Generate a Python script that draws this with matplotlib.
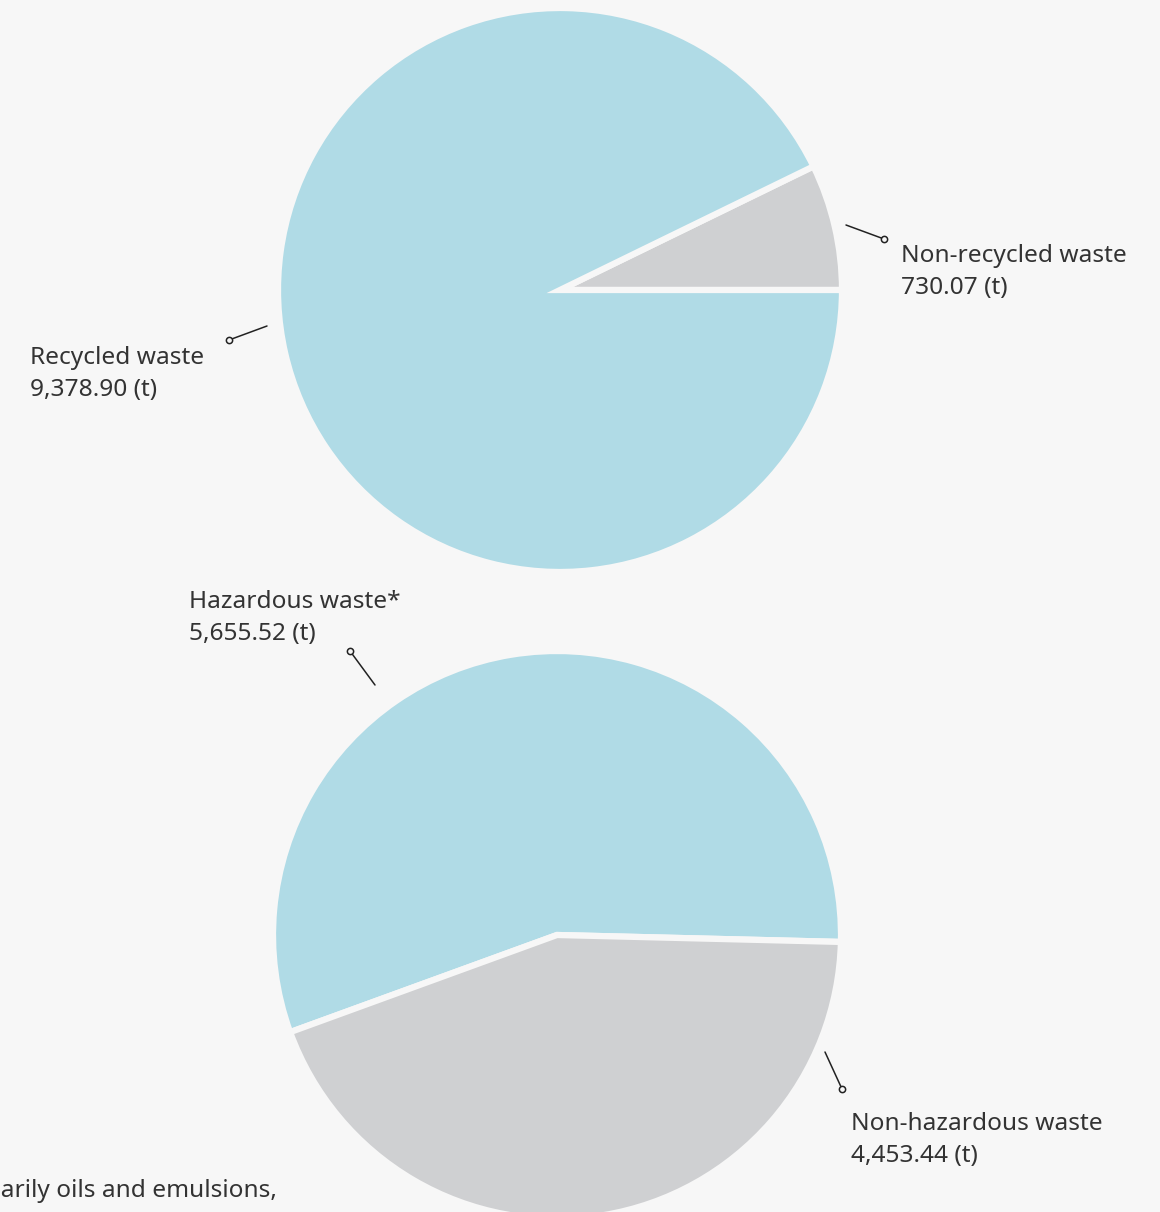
import numpy as np
import matplotlib.pyplot as plt

# top pie: recycled vs non-recycled waste (t)
recycling_labels = ["Non-recycled waste", "Recycled waste"]
recycling_values = [730.07, 9378.90]

# bottom pie: hazardous vs non-hazardous waste (t)
hazard_labels = ["Hazardous waste*", "Non-hazardous waste"]
hazard_values = [5655.52, 4453.44]

footnote = ["*Primarily oils and emulsions,", "as well as contaminated packaging"]

BLUE = "#b0dbe6"
GREY = "#cfd0d2"
BG = "#f7f7f7"
TXT = "#333333"
FONT = "Noto Sans"
FS = 17.6
W, H = 1160, 1212


def py(y):
    # image pixel row -> data y (y up)
    return H - y


def fmt(v):
    return f"{v:,.2f} (t)"


fig = plt.figure(figsize=(W / 100, H / 100), dpi=100, facecolor=BG)
ax = fig.add_axes([0, 0, 1, 1])
ax.set_facecolor(BG)

wp = dict(edgecolor=BG, linewidth=4.5)

ax.pie(recycling_values, colors=[GREY, BLUE], startangle=0, counterclock=True,
       center=(560, py(290)), radius=282, wedgeprops=wp, frame=True)
ax.pie(hazard_values, colors=[BLUE, GREY], startangle=-1.4, counterclock=True,
       center=(557, py(935)), radius=284, wedgeprops=wp, frame=True)
ax.set_xlim(0, W)
ax.set_ylim(0, H)
ax.set_aspect("equal")
ax.axis("off")


def leader(x0, y0, x1, y1):
    ax.plot([x0, x1], [py(y0), py(y1)], color="#222222", lw=1.1,
            solid_capstyle="round")
    ax.plot([x1], [py(y1)], marker="o", ms=4.5, mfc=BG, mec="#222222", mew=1.1)


def label(x, y, name, value):
    ax.text(x, py(y), name, fontsize=FS, family=FONT, color=TXT,
            ha="left", va="center")
    ax.text(x, py(y + 32), fmt(value), fontsize=FS, family=FONT, color=TXT,
            ha="left", va="center")


leader(846, 225, 884, 239)
label(901, 256, recycling_labels[0], recycling_values[0])
leader(267, 326, 229, 340)
label(30, 358, recycling_labels[1], recycling_values[1])
leader(375, 685, 350, 651)
label(189, 602, hazard_labels[0], hazard_values[0])
leader(825, 1052, 842, 1089)
label(851, 1124, hazard_labels[1], hazard_values[1])

# footnote, cut off at the left and bottom edges as in the source
ax.text(277, py(1191), footnote[0], fontsize=FS, family=FONT, color=TXT,
        ha="right", va="center")
ax.text(300, py(1227), footnote[1], fontsize=FS, family=FONT, color=TXT,
        ha="right", va="center")

fig.savefig("out.png", dpi=100, facecolor=BG)
